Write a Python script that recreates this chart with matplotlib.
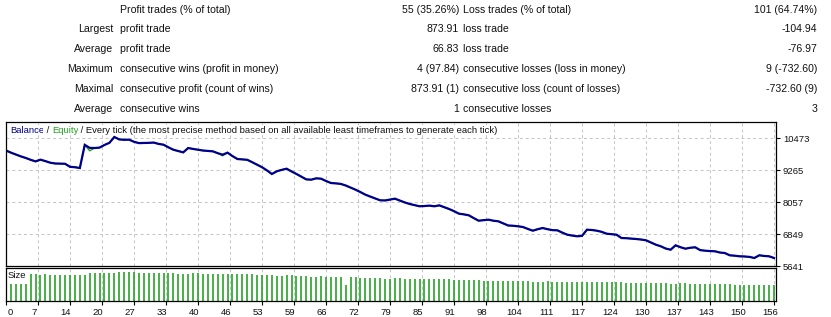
import numpy as np
import matplotlib
matplotlib.use("Agg")
import matplotlib.pyplot as plt
from matplotlib.transforms import ScaledTranslation

# ---------------- data ----------------
left_prefix = ["", "Largest", "Average", "Maximum", "Maximal", "Average"]
left_names = ["Profit trades (% of total)", "profit trade", "profit trade",
              "consecutive wins (profit in money)", "consecutive profit (count of wins)",
              "consecutive wins"]
left_values = ["55 (35.26%)", "873.91", "66.83", "4 (97.84)", "873.91 (1)", "1"]
right_names = ["Loss trades (% of total)", "loss trade", "loss trade",
               "consecutive losses (loss in money)", "consecutive loss (count of losses)",
               "consecutive losses"]
right_values = ["101 (64.74%)", "-104.94", "-76.97", "9 (-732.60)", "-732.60 (9)", "3"]

balance = [10000, 9920, 9850, 9780, 9720, 9650, 9590, 9655, 9600, 9540,
           9510, 9505, 9500, 9385, 9370, 9340, 10214, 10100, 10095, 10110,
           10210, 10290, 10511, 10420, 10405, 10410, 10330, 10280, 10285, 10290,
           10300, 10250, 10220, 10120, 10030, 9980, 9930, 10095, 10060, 10030,
           10000, 9985, 9970, 9900, 9843, 9920, 9790, 9680, 9665, 9650,
           9560, 9465, 9370, 9250, 9114, 9216, 9270, 9314, 9210, 9114,
           9010, 8910, 8900, 8950, 8937, 8850, 8774, 8760, 8740, 8680,
           8600, 8521, 8430, 8333, 8260, 8190, 8121, 8115, 8150, 8182,
           8110, 8040, 7982, 7940, 7895, 7905, 7920, 7895, 7930, 7860,
           7793, 7710, 7617, 7590, 7555, 7450, 7351, 7370, 7390, 7350,
           7328, 7250, 7170, 7160, 7140, 7113, 7040, 6974, 7030, 7075,
           7030, 6995, 6987, 6900, 6823, 6790, 6762, 6780, 7011, 7000,
           6974, 6930, 6860, 6840, 6823, 6698, 6690, 6675, 6660, 6640,
           6611, 6530, 6445, 6385, 6300, 6256, 6422, 6350, 6294, 6330,
           6347, 6240, 6219, 6205, 6196, 6150, 6131, 6045, 6030, 6007,
           6000, 5985, 5943, 6045, 6020, 6007, 5943]

# equity differs from balance only where a floating drawdown shows
equity_dip_trades = [17, 44]
equity_dip_values = [9990, 9800]

sizes = [1.00, 0.99, 0.99, 0.98, 0.97, 0.97, 0.96, 0.97, 0.96, 0.95,
         0.95, 0.95, 0.95, 0.94, 0.94, 0.93, 1.02, 1.01, 1.01, 1.01,
         1.02, 1.03, 1.05, 1.04, 1.04, 1.04, 1.03, 1.03, 1.03, 1.03,
         1.03, 1.03, 1.02, 1.01, 1.00, 1.00, 0.99, 1.01, 1.01, 1.00,
         1.00, 1.00, 1.00, 0.99, 0.98, 0.99, 0.98, 0.97, 0.97, 0.97,
         0.96, 0.95, 0.94, 0.93, 0.91, 0.92, 0.93, 0.93, 0.92, 0.91,
         0.90, 0.89, 0.89, 0.90, 0.89, 0.89, 0.88, 0.88, 0.58, 0.87,
         0.86, 0.85, 0.84, 0.83, 0.83, 0.82, 0.81, 0.81, 0.82, 0.82,
         0.81, 0.80, 0.80, 0.79, 0.79, 0.79, 0.79, 0.79, 0.79, 0.79,
         0.78, 0.77, 0.76, 0.76, 0.76, 0.75, 0.74, 0.74, 0.74, 0.74,
         0.73, 0.73, 0.72, 0.72, 0.71, 0.71, 0.70, 0.70, 0.70, 0.71,
         0.70, 0.70, 0.70, 0.69, 0.68, 0.68, 0.68, 0.68, 0.70, 0.70,
         0.70, 0.69, 0.69, 0.68, 0.68, 0.67, 0.67, 0.67, 0.67, 0.66,
         0.66, 0.65, 0.64, 0.64, 0.63, 0.63, 0.64, 0.64, 0.63, 0.63,
         0.63, 0.62, 0.62, 0.62, 0.62, 0.62, 0.61, 0.60, 0.60, 0.60,
         0.60, 0.60, 0.59, 0.60, 0.60, 0.60]

y_ticks = [10473, 9265, 8057, 6849, 5641]
x_tick_labels = ["0", "7", "14", "20", "27", "33", "40", "46", "53", "59", "66", "72",
                 "79", "85", "91", "98", "104", "111", "117", "124", "130", "137",
                 "143", "150", "156"]

# ---------------- figure ----------------
W, H = 831, 317
DPI = 100
fig = plt.figure(figsize=(W / DPI, H / DPI), dpi=DPI)
fig.patch.set_facecolor("white")

FONT = ["Liberation Sans", "DejaVu Sans"]
FS_TABLE = 7.6
FS = 6.8
TXT = "#111111"


def fx(x):
    return x / W


def fy(y):
    return 1 - y / H


# stats table
row_y = [9, 28.5, 48.3, 68.2, 88.1, 108]
for i in range(6):
    by = fy(row_y[i] + 4)
    kw = dict(va="baseline", fontsize=FS_TABLE, family=FONT, color=TXT)
    fig.text(fx(113), by, left_prefix[i], ha="right", **kw)
    fig.text(fx(120), by, left_names[i], ha="left", **kw)
    fig.text(fx(459), by, left_values[i], ha="right", **kw)
    fig.text(fx(463), by, right_names[i], ha="left", **kw)
    fig.text(fx(817), by, right_values[i], ha="right", **kw)

# axes
L, R = 6, 776
ax = fig.add_axes([fx(L), fy(266), (R - L) / W, (266 - 122) / H])
axs = fig.add_axes([fx(L), fy(301), (R - L) / W, (301 - 268) / H])

trades = np.arange(len(balance))
equity = np.array(balance, dtype=float)
equity[equity_dip_trades] = equity_dip_values

xt = np.linspace(0, len(balance) - 1, len(x_tick_labels))
grid_kw = dict(color="#c4c4c4", linestyle=(0, (3, 3)), linewidth=0.7)

for a in (ax, axs):
    a.set_xlim(0, 156.4)
    a.set_xticks(xt)
    for s in a.spines.values():
        s.set_linewidth(0.9)
        s.set_color("black")
        s.set_zorder(6)
    a.set_axisbelow(True)

ax.plot(trades, equity, color="#22a022", lw=1.0, zorder=2)
ax.plot(trades, balance, color="#00008b", lw=1.6, zorder=3, solid_joinstyle="miter")
ax.set_ylim(5641, 11077)
ax.set_yticks(y_ticks)
ax.yaxis.tick_right()
ax.tick_params(axis="y", length=3, width=0.8, pad=2, labelsize=FS, labelcolor=TXT)
for lab in ax.get_yticklabels():
    lab.set_family(FONT)
ax.tick_params(axis="x", length=0, labelbottom=False)
ax.grid(True, **grid_kw)

# title
t1 = ax.text(4 / 770, 1 - 8 / 144, "Balance", transform=ax.transAxes, ha="left", va="center",
             fontsize=FS, family=FONT, color="#00008b",
             bbox=dict(facecolor="white", edgecolor="none", pad=0.5), zorder=5)
fig.canvas.draw()
rend = fig.canvas.get_renderer()
title_parts = [(" / ", TXT), ("Equity", "#22a022"),
               (" / Every tick (the most precise method based on all available least timeframes to generate each tick)", TXT)]
prev = t1
for txt, col in title_parts:
    bb = prev.get_window_extent(rend)
    x0 = ax.transAxes.inverted().transform((bb.x1, 0))[0]
    prev = ax.text(x0, 1 - 8 / 144, txt, transform=ax.transAxes, ha="left", va="center",
                   fontsize=FS, family=FONT, color=col,
                   bbox=dict(facecolor="white", edgecolor="none", pad=0.5), zorder=5)

# size panel
axs.vlines(np.arange(1, len(sizes) + 1), 0, sizes, color="#159a15", lw=1.1, zorder=3)
axs.set_ylim(0, 1.20)
axs.set_yticks([])
axs.grid(True, axis="x", **grid_kw)
axs.set_xticklabels(x_tick_labels)
axs.tick_params(axis="x", length=3, width=0.8, pad=2, labelsize=FS, labelcolor=TXT)
for i, lab in enumerate(axs.get_xticklabels()):
    lab.set_family(FONT)
    dx = 4 if i == 0 else -4
    lab.set_transform(lab.get_transform() + ScaledTranslation(dx / DPI, 0, fig.dpi_scale_trans))
axs.text(2 / 770, 0.76, "Size", transform=axs.transAxes, ha="left", va="center",
         fontsize=FS, family=FONT, color=TXT,
         bbox=dict(facecolor="white", edgecolor="none", boxstyle="square,pad=0.4"), zorder=5)

fig.savefig("out.png", dpi=DPI, facecolor="white")
